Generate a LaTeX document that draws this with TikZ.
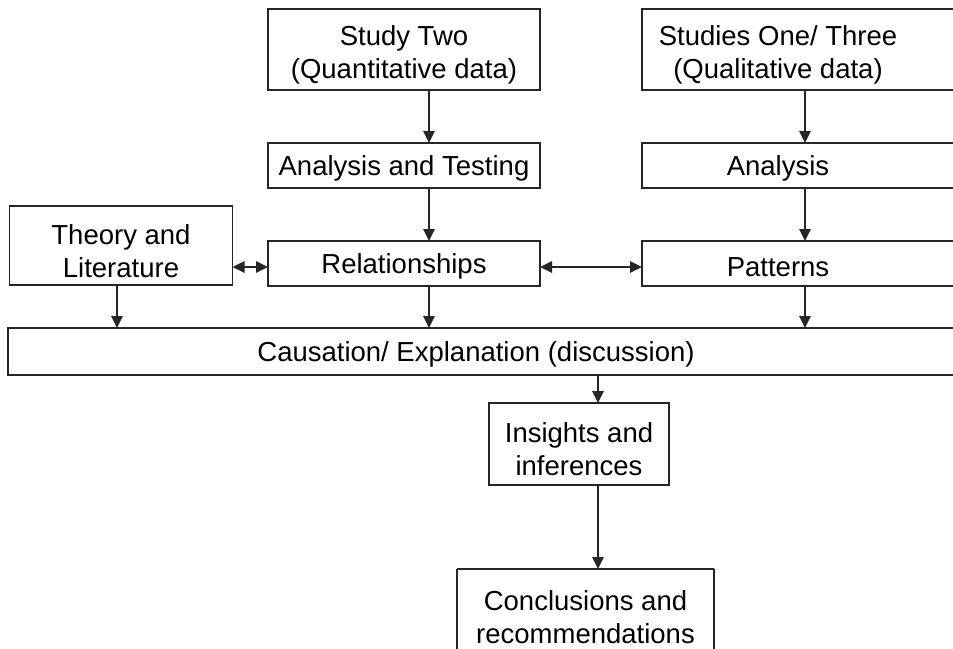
\documentclass[tikz,border=0pt]{standalone}
\usepackage{fontspec}
\setmainfont{Liberation Sans}
\usetikzlibrary{arrows.meta}
% tall strut that lowers the text block a little inside its box
\newcommand{\lowerstrut}{\rule{0pt}{31pt}}
\begin{document}
\begin{tikzpicture}[x=1pt,y=-1pt,
  txt/.style={font=\fontsize{27.5}{33}\selectfont, align=center, inner sep=0pt, outer sep=0pt, text=black,
              execute at begin node={\rule{0pt}{26pt}}},
  box/.style={txt, draw=black!85, line width=1.3pt, rectangle},
  openbox/.style={txt, draw=none, rectangle},
  boxline/.style={draw=black!85, line width=1.3pt},
  tip/.tip={Triangle[length=12pt,width=11pt]},
  flow/.style={draw=black!85, line width=2.6pt, -tip},
  both/.style={draw=black!85, line width=2.6pt, tip-tip}]
\useasboundingbox (0,0) rectangle (953,648);
\clip (0,0) rectangle (953,648);

% helper coordinates for connector columns / rows and the cut-off right edge
\coordinate (R)  at (965,0);
\coordinate (B)  at (0,665);
\coordinate (cT) at (117,0);
\coordinate (cL) at (429,0);
\coordinate (cR) at (805,0);
\coordinate (cI) at (598,0);
\coordinate (rM) at (0,267);

% left column
\node[box, minimum width=272, minimum height=81] (st) at (404,49.5) {\lowerstrut Study Two\\(Quantitative data)};
\node[box, minimum width=272, minimum height=45] (at) at (404,165.5) {Analysis and Testing};
\node[box, minimum width=272, minimum height=45] (rel) at (404,263.5) {Relationships};

% theory box
\node[box, minimum width=223, minimum height=79] (th) at (121,245.5) {\lowerstrut Theory and\\Literature};

% right column (boxes run past the right edge)
\node[openbox, minimum width=272, minimum height=81] (sq) at (778,49.5) {\lowerstrut Studies One/ Three\\(Qualitative data)};
\node[openbox, minimum width=272, minimum height=45] (an) at (778,165.5) {Analysis};
\node[openbox, minimum width=272, minimum height=45] (pa) at (778,263.5) {Patterns};
\draw[boxline] (sq.south west) rectangle (sq.north -| R);
\draw[boxline] (an.south west) rectangle (an.north -| R);
\draw[boxline] (pa.south west) rectangle (pa.north -| R);

% discussion band
\node[openbox, minimum width=936, minimum height=47] (ca) at (476,351.5) {Causation/ Explanation (discussion)};
\draw[boxline] (ca.south west) rectangle (ca.north -| R);

% lower chain
\node[box, minimum width=180, minimum height=82] (in) at (579,444) {\lowerstrut Insights and\\inferences};
\node[openbox, minimum width=257, minimum height=86] (co) at (585.5,612) {\lowerstrut Conclusions and\\recommendations};
\draw[boxline] (co.north west) -- (co.north east);
\draw[boxline] (co.north west) -- (co.west |- B);
\draw[boxline] (co.north east) -- (co.east |- B);

% connectors
\draw[flow] (st.south -| cL) -- (at.north -| cL);
\draw[flow] (at.south -| cL) -- (rel.north -| cL);
\draw[flow] (rel.south -| cL) -- (ca.north -| cL);
\draw[flow] (sq.south -| cR) -- (an.north -| cR);
\draw[flow] (an.south -| cR) -- (pa.north -| cR);
\draw[flow] (pa.south -| cR) -- (ca.north -| cR);
\draw[flow] (th.south -| cT) -- (ca.north -| cT);
\draw[both] (th.east |- rM) -- (rel.west |- rM);
\draw[both] (rel.east |- rM) -- (pa.west |- rM);
\draw[flow] (ca.south -| cI) -- (in.north -| cI);
\draw[flow] (in.south -| cI) -- (co.north -| cI);
\end{tikzpicture}
\end{document}
